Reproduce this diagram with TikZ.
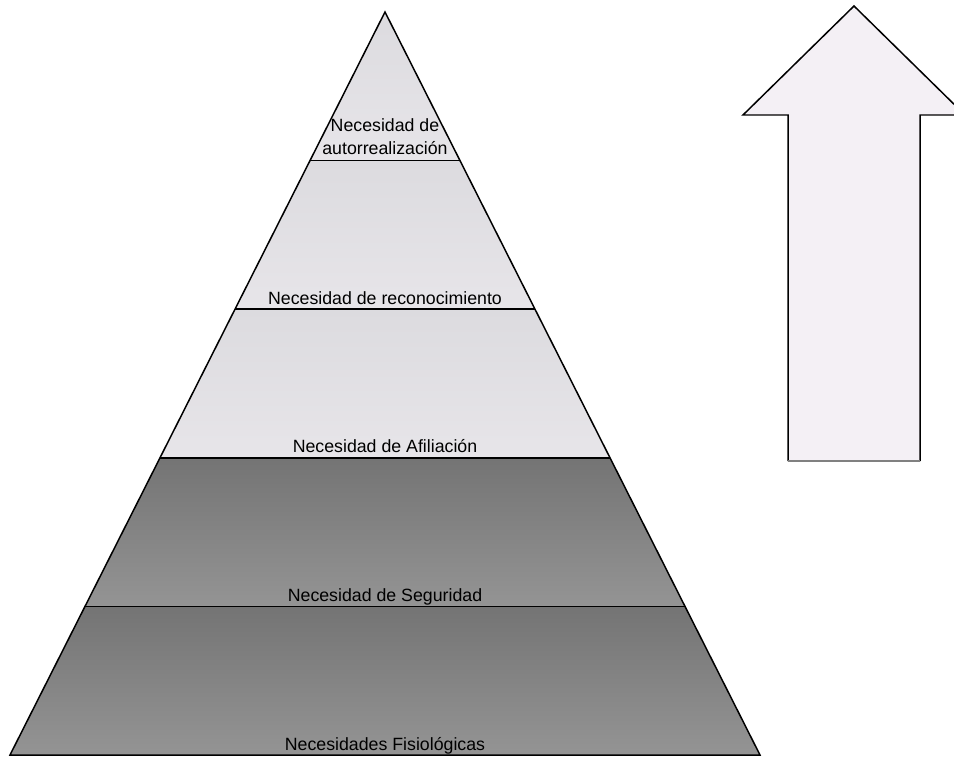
\documentclass[tikz,border=0pt]{standalone}
\usepackage{fontspec}
\setmainfont{Liberation Sans}
\usepackage{tikz}
\usetikzlibrary{calc}

\definecolor{lighttop}{HTML}{DCDBDF}
\definecolor{lightbot}{HTML}{E7E5E9}
\definecolor{darktop}{HTML}{747474}
\definecolor{darkbot}{HTML}{949494}
\definecolor{arrowfill}{HTML}{F4F0F5}

\begin{document}
\begin{tikzpicture}[x=0.02cm, y=-0.02cm, line join=miter,
  level/.style = {font=\fontsize{10.1}{12}\selectfont, anchor=base, inner sep=0pt},
  edge/.style = {line width=0.85pt},
  light/.style = {top color=lighttop, bottom color=lightbot},
  dark/.style = {top color=darktop, bottom color=darkbot}]

\useasboundingbox (0,0) rectangle (954,757);

\coordinate (A) at (385,12);
\coordinate (L0) at (10,755);
\coordinate (R0) at (760,755);
\foreach \i/\t in {1/0.2,2/0.4,3/0.6,4/0.8}{
  \coordinate (L\i) at ($(A)!\t!(L0)$);
  \coordinate (R\i) at ($(A)!\t!(R0)$);
}

\shade[light] (A) -- (L1) -- (R1) -- cycle;
\shade[light] (L1) -- (L2) -- (R2) -- (R1) -- cycle;
\shade[light] (L2) -- (L3) -- (R3) -- (R2) -- cycle;
\shade[dark] (L3) -- (L4) -- (R4) -- (R3) -- cycle;
\shade[dark] (L4) -- (L0) -- (R0) -- (R4) -- cycle;

\draw[edge] (A) -- (L0) -- (R0) -- cycle;
\foreach \i in {1,...,4}
  \draw[edge] (L\i) -- (R\i);

\node[level] (auto1) at (385,132) {Necesidad de};
\node[level] (auto2) at (385,154) {autorrealización};
\node[level] (reco) at (385,304) {Necesidad de reconocimiento};
\node[level] (afil) at (385,452) {Necesidad de Afiliación};
\node[level] (segu) at (385,601) {Necesidad de Seguridad};
\node[level] (fisi) at (385,750) {Necesidades Fisiológicas};

\coordinate (tip) at (854,6);
\coordinate (hl) at (743,115);
\coordinate (hr) at (965,115);
\coordinate (sl) at (788,115);
\coordinate (sr) at (920,115);
\coordinate (bl) at (788,461);
\coordinate (br) at (920,461);

\fill[arrowfill] (bl) -- (sl) -- (hl) -- (tip) -- (hr) -- (sr) -- (br) -- cycle;
\draw[edge] (bl) -- (sl) -- (hl) -- (tip) -- (hr) -- (sr) -- (br);
\draw[edge, gray] (bl) -- (br);

\end{tikzpicture}
\end{document}
